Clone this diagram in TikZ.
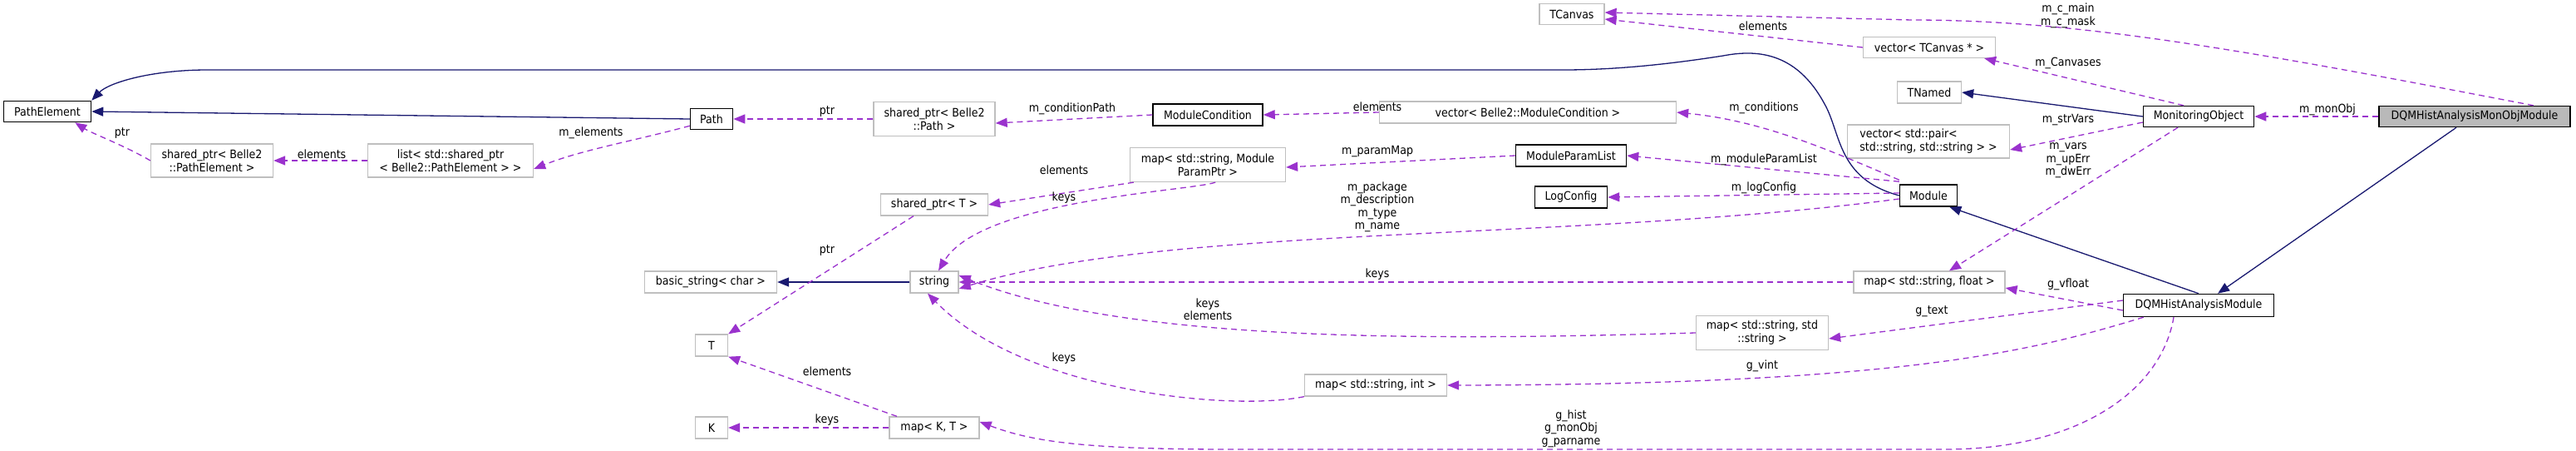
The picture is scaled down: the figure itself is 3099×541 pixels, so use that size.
\documentclass[tikz,border=0pt]{standalone}
\usepackage{fontspec}
\setmainfont{DejaVu Sans Condensed}
\usetikzlibrary{arrows.meta}
\definecolor{navy}{HTML}{191970}
\definecolor{dep}{HTML}{9A32CD}
\definecolor{gb}{HTML}{BFBFBF}
\tikzset{
  doc/.style={draw=black,line width=1.5pt,fill=white,inner sep=0pt,font=\fontsize{14}{16}\selectfont,align=center},
  und/.style={draw=gb,line width=1.3pt,fill=white,inner sep=0pt,font=\fontsize{14}{16}\selectfont,align=center},
  inh/.style={draw=navy,line width=1.3pt,-{Triangle[length=14pt,width=11pt]}},
  use/.style={draw=dep,line width=1.3pt,dash pattern=on 7pt off 5pt,-{Triangle[length=14pt,width=11pt]}},
  lbl/.style={font=\fontsize{14}{15.5}\selectfont,align=center,inner sep=0pt}
}
\begin{document}
\begin{tikzpicture}[x=1pt,y=-1pt]
\useasboundingbox (0,0) rectangle (3099,541);
% nodes
\node[doc,minimum width=105,minimum height=25] (pe) at (57,134) {PathElement};
\node[und,minimum width=147,minimum height=40] (spe) at (255,193) {shared\_ptr< Belle2\\::PathElement >};
\node[und,minimum width=199,minimum height=40] (lst) at (542,193) {list< std::shared\_ptr\\< Belle2::PathElement > >};
\node[doc,minimum width=51,minimum height=25] (path) at (856,143) {Path};
\node[und,minimum width=146,minimum height=41] (spp) at (1124,143) {shared\_ptr< Belle2\\::Path >};
\node[doc,minimum width=132,minimum height=26] (mc) at (1453,138) {ModuleCondition};
\node[und,minimum width=187,minimum height=41] (mpm) at (1453,198) {map< std::string, Module\\ParamPtr >};
\node[und,minimum width=129,minimum height=26] (spt) at (1124,246) {shared\_ptr< T >};
\node[und,minimum width=58,minimum height=26] (str) at (1124,339) {string};
\node[und,minimum width=159,minimum height=26] (bs) at (855,339) {basic\_string< char >};
\node[und,minimum width=39,minimum height=26] (T) at (856,415) {T};
\node[und,minimum width=39,minimum height=26] (K) at (856,514) {K};
\node[und,minimum width=108,minimum height=26] (mkt) at (1124,514) {map< K, T >};
\node[und,minimum width=171,minimum height=26] (msi) at (1655,463) {map< std::string, int >};
\node[und,minimum width=78,minimum height=25] (tc) at (1891,17) {TCanvas};
\node[und,minimum width=159,minimum height=25] (vtc) at (2321,57) {vector< TCanvas * >};
\node[und,minimum width=77,minimum height=26] (tn) at (2321,111) {TNamed};
\node[doc,minimum width=133,minimum height=25] (mo) at (2645,140) {MonitoringObject};
\node[doc,fill=gray!55,minimum width=230,minimum height=25] (top) at (2977,140) {DQMHistAnalysisMonObjModule};
\node[und,minimum width=195,minimum height=40,align=left] (vp) at (2320,170) {vector< std::pair<\\std::string, std::string > >};
\node[und,minimum width=357,minimum height=26] (vmc) at (1838,135) {vector< Belle2::ModuleCondition >};
\node[doc,minimum width=133,minimum height=26] (mpl) at (1890,187) {ModuleParamList};
\node[doc,minimum width=87,minimum height=26] (lc) at (1890,237) {LogConfig};
\node[doc,minimum width=69,minimum height=26] (mod) at (2320,235) {Module};
\node[und,minimum width=182,minimum height=26] (msf) at (2321,339) {map< std::string, float >};
\node[doc,minimum width=181,minimum height=27] (dqm) at (2645,367) {DQMHistAnalysisModule};
\node[und,minimum width=159,minimum height=41] (mss) at (2120,400) {map< std::string, std\\::string >};
% inheritance
\draw[inh] (path.west) -- (pe.east);
\draw[inh] (mod.west) .. controls (2210,215) and (2215,160) .. (2195,125)
  .. controls (2160,60) and (2110,60) .. (2073,67)
  .. controls (1990,80) and (1930,84) .. (1880,84) -- (250,84)
  .. controls (180,84) and (130,100) .. (pe.north east);
\draw[inh] (mo.west) -- (tn.east);
\draw[inh] (dqm.north) -- ([xshift=-10pt]mod.south east);
\draw[inh] ([xshift=-22pt]top.south) -- ([xshift=23pt]dqm.north);
\draw[inh] (str.west) -- (bs.east);
% usage
\draw[use] (spe.west) .. controls (150,175) and (110,160) .. ([xshift=-20pt]pe.south east);
\draw[use] (lst.west) -- (spe.east);
\draw[use] ([yshift=5pt]path.south west) .. controls (760,170) and (700,180) .. ([yshift=-10pt]lst.east);
\draw[use] (spp.west) -- (path.east);
\draw[use] (mc.west) -- ([yshift=-5pt]spp.east);
\draw[use] (vmc.west) -- (mc.east);
\draw[use] ([yshift=5pt]mod.north west) .. controls (2200,180) and (2120,145) .. (vmc.east);
\draw[use] ([yshift=3pt]mod.north west) -- (mpl.east);
\draw[use] (mpl.west) -- ([yshift=-3pt]mpm.east);
\draw[use] ([xshift=-85pt]mpm.south east) .. controls (1430,230) and (1180,240) .. ([xshift=5pt]str.north);
\draw[use] ([xshift=5pt]mpm.south west) -- (spt.east);
\draw[use] ([xshift=-25pt]spt.south) -- (T.north east);
\draw[use] ([yshift=3pt]mod.west) -- (lc.east);
\draw[use] ([yshift=-4pt]mod.west) .. controls (1900,290) and (1400,270) .. ([yshift=-8pt]str.east);
\draw[use] (msf.west) -- (str.east);
\draw[use] (mss.west) .. controls (1700,410) and (1350,410) .. ([yshift=8pt]str.east);
\draw[use] (msi.south west) .. controls (1480,495) and (1230,470) .. ([xshift=-8pt]str.south);
\draw[use] ([xshift=-45pt]mkt.north) -- (T.south east);
\draw[use] (mkt.west) -- (K.east);
\draw[use] ([xshift=-30pt]dqm.south) .. controls (2600,470) and (2500,540) .. (2340,540) -- (1480,540) .. controls (1300,540) and (1240,530) .. ([yshift=7pt]mkt.east);
\draw[use] ([xshift=25pt]dqm.south west) .. controls (2450,420) and (2300,462) .. (msi.east);
\draw[use] ([yshift=6pt]dqm.west) -- ([yshift=-7pt]mss.east);
\draw[use] ([yshift=-6pt]dqm.west) -- ([yshift=-7pt]msf.east);
\draw[use] ([xshift=-25pt]mo.south) -- ([xshift=24pt]msf.north);
\draw[use] ([yshift=-7pt]mo.west) -- ([yshift=-10pt]vp.east);
\draw[use] ([xshift=-18pt]mo.north) -- ([xshift=-14pt]vtc.south east);
\draw[use] (vtc.west) -- ([yshift=-6pt]tc.east);
\draw[use] ([xshift=-45pt]top.north east) .. controls (2700,60) and (2500,24) .. (2300,24) -- ([yshift=2pt]tc.east);
\draw[use] (top.west) -- (mo.east);
% labels
\node[lbl] (l1) at (147,160) {ptr};
\node[lbl] (l2) at (387,185) {elements};
\node[lbl] (l3) at (711,160) {m\_elements};
\node[lbl] (l4) at (995,134) {ptr};
\node[lbl] (l5) at (1290,131) {m\_conditionPath};
\node[lbl] (l6) at (1657,128) {elements};
\node[lbl] (l7) at (2122,130) {m\_conditions};
\node[lbl] (l8) at (2122,192) {m\_moduleParamList};
\node[lbl] (l9) at (1657,182) {m\_paramMap};
\node[lbl] (l10) at (1280,204) {elements};
\node[lbl] (l11) at (1280,238) {keys};
\node[lbl] (l12) at (995,301) {ptr};
\node[lbl] (l13) at (2122,226) {m\_logConfig};
\node[lbl] (l14) at (1657,249) {m\_package\\m\_description\\m\_type\\m\_name};
\node[lbl] (l15) at (1657,330) {keys};
\node[lbl] (l16) at (1453,372) {keys\\elements};
\node[lbl] (l17) at (1280,431) {keys};
\node[lbl] (l18) at (995,446) {elements};
\node[lbl] (l19) at (995,505) {keys};
\node[lbl] (l20) at (1890,515) {g\_hist\\g\_monObj\\g\_parname};
\node[lbl] (l21) at (2120,440) {g\_vint};
\node[lbl] (l22) at (2324,374) {g\_text};
\node[lbl] (l23) at (2488,342) {g\_vfloat};
\node[lbl] (l24) at (2488,193) {m\_vars\\m\_upErr\\m\_dwErr};
\node[lbl] (l25) at (2488,144) {m\_strVars};
\node[lbl] (l26) at (2488,76) {m\_Canvases};
\node[lbl] (l27) at (2121,31) {elements};
\node[lbl] (l28) at (2488,19) {m\_c\_main\\m\_c\_mask};
\node[lbl] (l29) at (2800,132) {m\_monObj};
\end{tikzpicture}
\end{document}
